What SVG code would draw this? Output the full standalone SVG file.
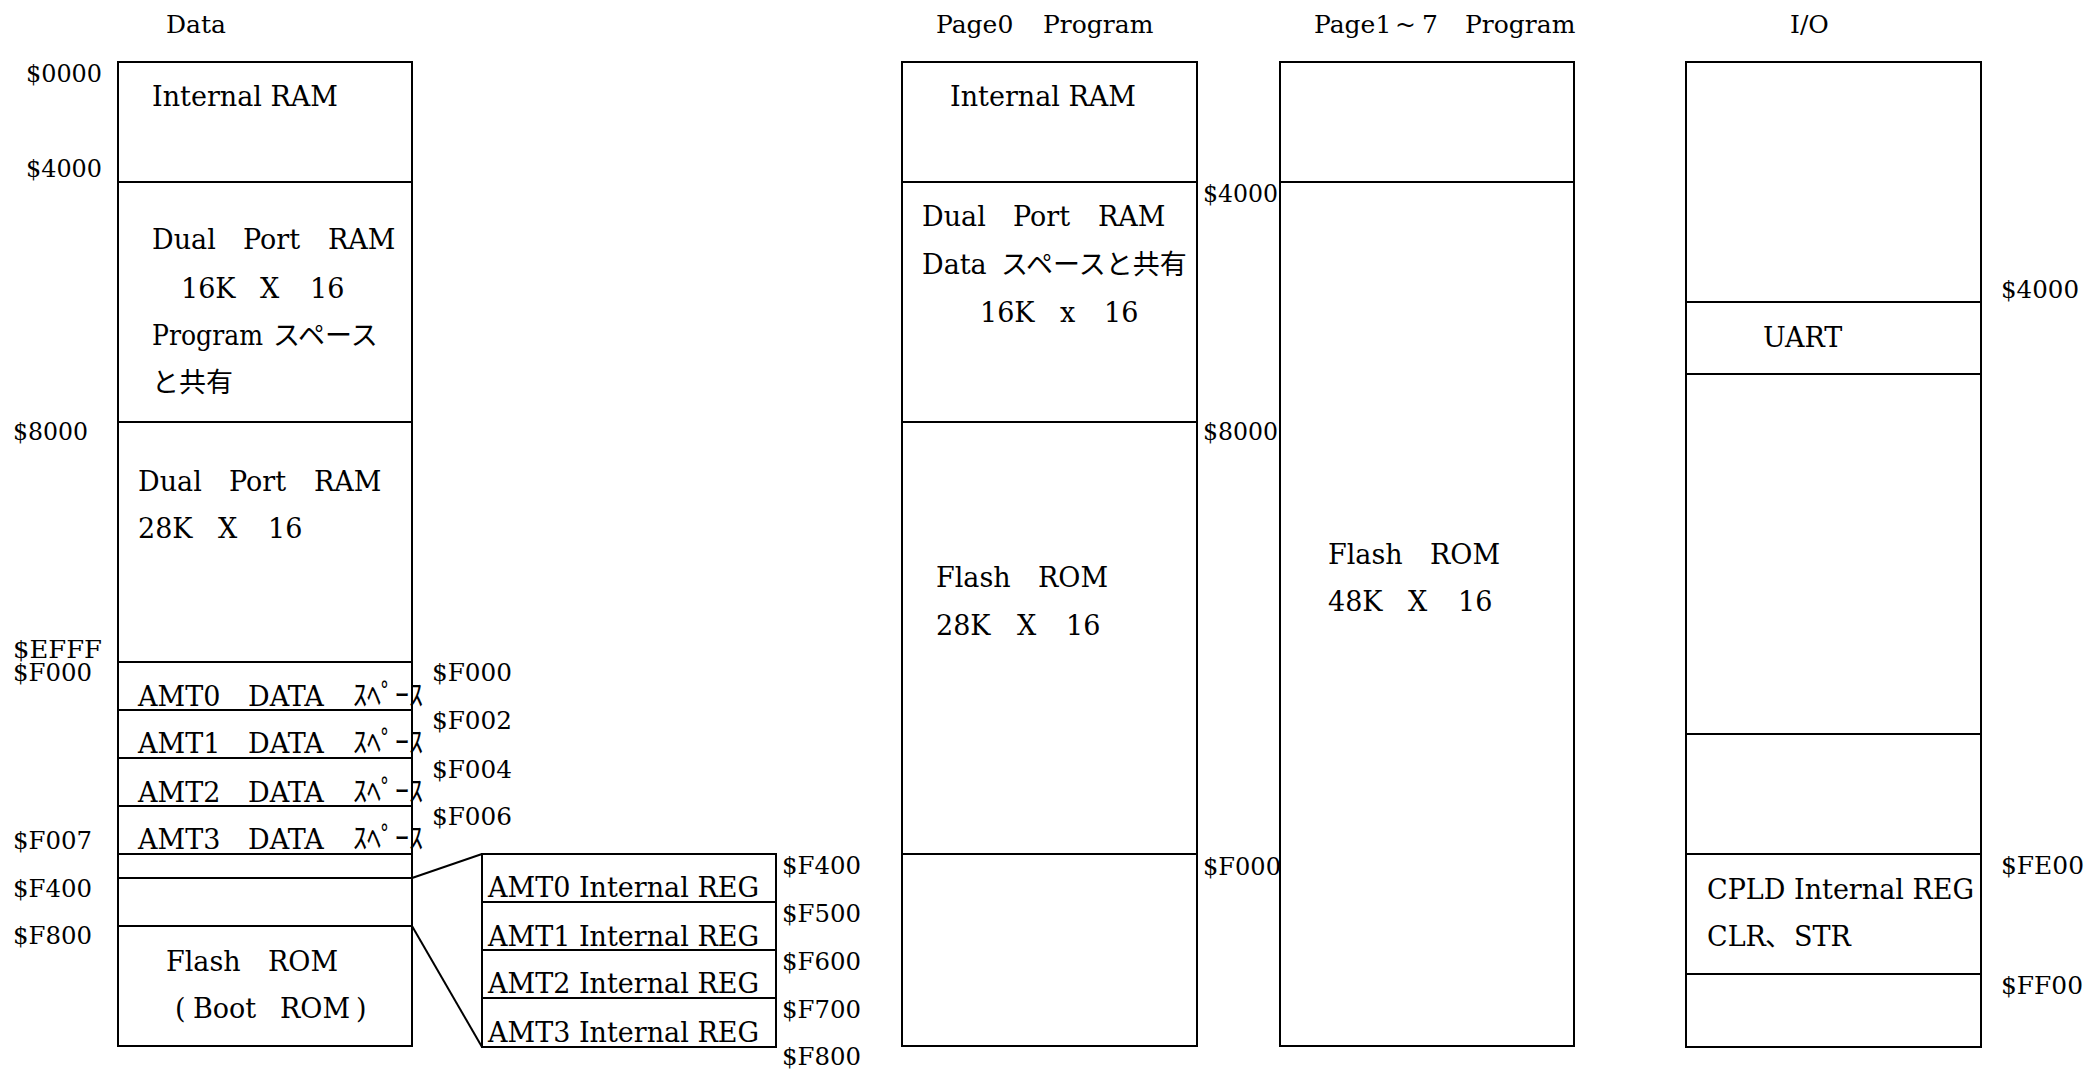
<svg xmlns="http://www.w3.org/2000/svg" width="2089" height="1072" viewBox="0 0 2089 1072">
<style>
  .bx{fill:#fff;stroke:#000;stroke-width:2}
  .cn{fill:none;stroke:#000;stroke-width:2}
  text{font-family:"DejaVu Serif","Liberation Serif","Noto Sans CJK JP",serif;fill:#000}
  .h{font-size:25px}
  .a{font-size:25px}
  .t{font-size:27px}
  .j{font-family:"Noto Sans CJK JP","Noto Sans CJK SC",sans-serif;font-size:27px}
  .k{font-family:"Noto Sans CJK JP","Noto Sans CJK SC",sans-serif;font-size:29px}
</style>
<rect width="2089" height="1072" fill="#fff"/>

<!-- headers -->
<g id="headers">
  <text class="h" x="166" y="33">Data</text>
  <text class="h" y="33"><tspan x="936">Page0</tspan><tspan x="1043">Program</tspan></text>
  <text class="h" y="33"><tspan x="1314">Page1</tspan><tspan x="1395">~</tspan><tspan x="1422">7</tspan><tspan x="1465">Program</tspan></text>
  <text class="h" x="1790" y="33">I/O</text>
</g>

<!-- Data column -->
<g id="data-internal-ram">
  <rect class="bx" x="118" y="62" width="294" height="120"/>
  <text class="t" x="152" y="106">Internal RAM</text>
</g>
<g id="data-dpram16">
  <rect class="bx" x="118" y="182" width="294" height="240"/>
  <text class="t" y="249"><tspan x="152">Dual</tspan><tspan x="243">Port</tspan><tspan x="328">RAM</tspan></text>
  <text class="t" y="298"><tspan x="181">16K</tspan><tspan x="260">X</tspan><tspan x="310">16</tspan></text>
  <text class="t" x="152" y="345" textLength="111" lengthAdjust="spacingAndGlyphs">Program</text>
  <text class="j" x="273" y="345">スペース</text>
  <text class="j" x="152" y="392">と共有</text>
</g>
<g id="data-dpram28">
  <rect class="bx" x="118" y="422" width="294" height="240"/>
  <text class="t" y="491"><tspan x="138">Dual</tspan><tspan x="229">Port</tspan><tspan x="314">RAM</tspan></text>
  <text class="t" y="538"><tspan x="138">28K</tspan><tspan x="218">X</tspan><tspan x="268">16</tspan></text>
</g>
<g id="data-amt0">
  <rect class="bx" x="118" y="662" width="294" height="48"/>
  <text class="t" y="706"><tspan x="138">AMT0</tspan><tspan x="248">DATA</tspan></text>
  <text class="k" x="353" y="706" textLength="70" lengthAdjust="spacingAndGlyphs">ｽﾍﾟｰｽ</text>
</g>
<g id="data-amt1">
  <rect class="bx" x="118" y="710" width="294" height="48"/>
  <text class="t" y="753"><tspan x="138">AMT1</tspan><tspan x="248">DATA</tspan></text>
  <text class="k" x="353" y="753" textLength="70" lengthAdjust="spacingAndGlyphs">ｽﾍﾟｰｽ</text>
</g>
<g id="data-amt2">
  <rect class="bx" x="118" y="758" width="294" height="48"/>
  <text class="t" y="802"><tspan x="138">AMT2</tspan><tspan x="248">DATA</tspan></text>
  <text class="k" x="353" y="802" textLength="70" lengthAdjust="spacingAndGlyphs">ｽﾍﾟｰｽ</text>
</g>
<g id="data-amt3">
  <rect class="bx" x="118" y="806" width="294" height="48"/>
  <text class="t" y="849"><tspan x="138">AMT3</tspan><tspan x="248">DATA</tspan></text>
  <text class="k" x="353" y="849" textLength="70" lengthAdjust="spacingAndGlyphs">ｽﾍﾟｰｽ</text>
</g>
<g id="data-gap">
  <rect class="bx" x="118" y="854" width="294" height="24"/>
</g>
<g id="data-reg">
  <rect class="bx" x="118" y="878" width="294" height="48"/>
</g>
<g id="data-flash">
  <rect class="bx" x="118" y="926" width="294" height="120"/>
  <text class="t" y="971"><tspan x="166">Flash</tspan><tspan x="268">ROM</tspan></text>
  <text class="t" y="1018"><tspan x="175">(</tspan><tspan x="193">Boot</tspan><tspan x="280">ROM</tspan><tspan x="356">)</tspan></text>
</g>
<g id="data-addr">
  <text class="a" x="26" y="82" textLength="76" lengthAdjust="spacingAndGlyphs">$0000</text>
  <text class="a" x="26" y="177" textLength="76" lengthAdjust="spacingAndGlyphs">$4000</text>
  <text class="a" x="13" y="440" textLength="75" lengthAdjust="spacingAndGlyphs">$8000</text>
  <text class="a" x="13" y="658" textLength="89" lengthAdjust="spacingAndGlyphs">$EFFF</text>
  <text class="a" x="13" y="681" textLength="79" lengthAdjust="spacingAndGlyphs">$F000</text>
  <text class="a" x="13" y="849" textLength="79" lengthAdjust="spacingAndGlyphs">$F007</text>
  <text class="a" x="13" y="897" textLength="79" lengthAdjust="spacingAndGlyphs">$F400</text>
  <text class="a" x="13" y="944" textLength="79" lengthAdjust="spacingAndGlyphs">$F800</text>
  <text class="a" x="432" y="681" textLength="80" lengthAdjust="spacingAndGlyphs">$F000</text>
  <text class="a" x="432" y="729" textLength="80" lengthAdjust="spacingAndGlyphs">$F002</text>
  <text class="a" x="432" y="778" textLength="80" lengthAdjust="spacingAndGlyphs">$F004</text>
  <text class="a" x="432" y="825" textLength="80" lengthAdjust="spacingAndGlyphs">$F006</text>
</g>

<!-- AMT internal REG expansion -->
<g id="reg-amt0">
  <rect class="bx" x="482" y="854" width="294" height="48"/>
  <text class="t" x="488" y="897">AMT0 Internal REG</text>
</g>
<g id="reg-amt1">
  <rect class="bx" x="482" y="902" width="294" height="48"/>
  <text class="t" x="488" y="946">AMT1 Internal REG</text>
</g>
<g id="reg-amt2">
  <rect class="bx" x="482" y="950" width="294" height="48"/>
  <text class="t" x="488" y="993">AMT2 Internal REG</text>
</g>
<g id="reg-amt3">
  <rect class="bx" x="482" y="998" width="294" height="49"/>
  <text class="t" x="488" y="1042">AMT3 Internal REG</text>
</g>
<g id="reg-addr">
  <text class="a" x="782" y="874" textLength="79" lengthAdjust="spacingAndGlyphs">$F400</text>
  <text class="a" x="782" y="922" textLength="79" lengthAdjust="spacingAndGlyphs">$F500</text>
  <text class="a" x="782" y="970" textLength="79" lengthAdjust="spacingAndGlyphs">$F600</text>
  <text class="a" x="782" y="1018" textLength="79" lengthAdjust="spacingAndGlyphs">$F700</text>
  <text class="a" x="782" y="1065" textLength="79" lengthAdjust="spacingAndGlyphs">$F800</text>
</g>

<!-- Page0 Program -->
<g id="p0-internal-ram">
  <rect class="bx" x="902" y="62" width="295" height="120"/>
  <text class="t" x="950" y="106">Internal RAM</text>
</g>
<g id="p0-dpram">
  <rect class="bx" x="902" y="182" width="295" height="240"/>
  <text class="t" y="226"><tspan x="922">Dual</tspan><tspan x="1013">Port</tspan><tspan x="1098">RAM</tspan></text>
  <text class="t" x="922" y="274">Data</text>
  <text class="j" x="1001" y="274">スペースと共有</text>
  <text class="t" y="322"><tspan x="980">16K</tspan><tspan x="1060">x</tspan><tspan x="1104">16</tspan></text>
</g>
<g id="p0-flash">
  <rect class="bx" x="902" y="422" width="295" height="432"/>
  <text class="t" y="587"><tspan x="936">Flash</tspan><tspan x="1038">ROM</tspan></text>
  <text class="t" y="635"><tspan x="936">28K</tspan><tspan x="1017">X</tspan><tspan x="1066">16</tspan></text>
</g>
<g id="p0-top">
  <rect class="bx" x="902" y="854" width="295" height="192"/>
</g>
<g id="p0-addr">
  <text class="a" x="1203" y="202" textLength="75" lengthAdjust="spacingAndGlyphs">$4000</text>
  <text class="a" x="1203" y="440" textLength="75" lengthAdjust="spacingAndGlyphs">$8000</text>
  <text class="a" x="1203" y="875" textLength="78" lengthAdjust="spacingAndGlyphs">$F000</text>
</g>

<!-- Page1~7 Program -->
<g id="p17-top">
  <rect class="bx" x="1280" y="62" width="294" height="120"/>
</g>
<g id="p17-flash">
  <rect class="bx" x="1280" y="182" width="294" height="864"/>
  <text class="t" y="564"><tspan x="1328">Flash</tspan><tspan x="1430">ROM</tspan></text>
  <text class="t" y="611"><tspan x="1328">48K</tspan><tspan x="1408">X</tspan><tspan x="1458">16</tspan></text>
</g>

<!-- I/O -->
<g id="io-low">
  <rect class="bx" x="1686" y="62" width="295" height="240"/>
</g>
<g id="io-uart">
  <rect class="bx" x="1686" y="302" width="295" height="72"/>
  <text class="t" x="1763" y="347">UART</text>
</g>
<g id="io-mid">
  <rect class="bx" x="1686" y="374" width="295" height="360"/>
</g>
<g id="io-mid2">
  <rect class="bx" x="1686" y="734" width="295" height="120"/>
</g>
<g id="io-cpld">
  <rect class="bx" x="1686" y="854" width="295" height="120"/>
  <text class="t" x="1707" y="899">CPLD Internal REG</text>
  <text class="t" x="1707" y="946">CLR</text>
  <text class="j" x="1765" y="946">、</text>
  <text class="t" x="1794" y="946">STR</text>
</g>
<g id="io-top">
  <rect class="bx" x="1686" y="974" width="295" height="73"/>
</g>
<g id="io-addr">
  <text class="a" x="2001" y="298" textLength="78" lengthAdjust="spacingAndGlyphs">$4000</text>
  <text class="a" x="2001" y="874" textLength="83" lengthAdjust="spacingAndGlyphs">$FE00</text>
  <text class="a" x="2001" y="994" textLength="82" lengthAdjust="spacingAndGlyphs">$FF00</text>
</g>

<!-- connectors -->
<g id="connectors">
  <line class="cn" x1="412" y1="878" x2="482" y2="854"/>
  <line class="cn" x1="412" y1="926" x2="482" y2="1047"/>
</g>
</svg>
